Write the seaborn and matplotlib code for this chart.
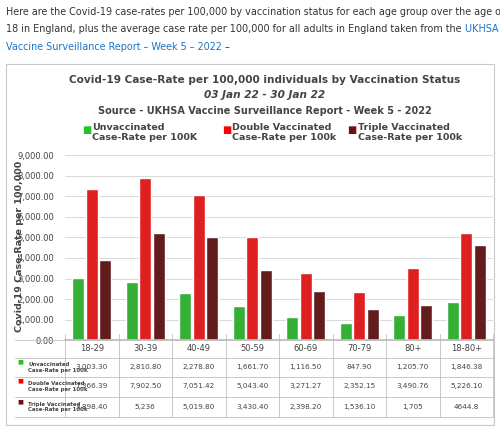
"""Covid-19 case-rate per 100k by vaccination status, with data table."""

import matplotlib.pyplot as plt
import pandas as pd
import seaborn as sns
from matplotlib.lines import Line2D
from matplotlib.patches import Rectangle

AGE_GROUPS = ["18-29", "30-39", "40-49", "50-59", "60-69", "70-79", "80+", "18-80+"]
UNVAX = [3003.30, 2810.80, 2278.80, 1661.70, 1116.50, 847.90, 1205.70, 1846.38]
DOUBLE = [7366.39, 7902.50, 7051.42, 5043.40, 3271.27, 2352.15, 3490.76, 5226.10]
TRIPLE = [3898.40, 5236.00, 5019.80, 3430.40, 2398.20, 1536.10, 1705.00, 4644.80]
UNVAX_TXT = ["3,003.30", "2,810.80", "2,278.80", "1,661.70", "1,116.50", "847.90", "1,205.70", "1,846.38"]
DOUBLE_TXT = ["7,366.39", "7,902.50", "7,051.42", "5,043.40", "3,271.27", "2,352.15", "3,490.76", "5,226.10"]
TRIPLE_TXT = ["3,898.40", "5,236", "5,019.80", "3,430.40", "2,398.20", "1,536.10", "1,705", "4644.8"]
SERIES = ["Unvaccinated", "Double Vaccinated", "Triple Vaccinated"]
COLORS = ["#22c322", "#ff0000", "#6e1010"]

df = pd.DataFrame({
    "age": AGE_GROUPS * 3,
    "rate": UNVAX + DOUBLE + TRIPLE,
    "status": [s for s in SERIES for _ in AGE_GROUPS],
})

sns.set_theme(style="white")
plt.rcParams["font.family"] = ["DejaVu Sans"]

fig = plt.figure(figsize=(5, 4.4), dpi=100)
renderer = fig.canvas.get_renderer()
inv = fig.transFigure.inverted()

# page text above the chart
body = "#333333"
link = "#1a73c8"
FS = 6.9
fig.text(0.012, 0.985, "Here are the Covid-19 case-rates per 100,000 by vaccination status for each age group over the age of",
         fontsize=FS, color=body, va="top")
t2 = fig.text(0.012, 0.945, "18 in England, plus the average case rate per 100,000 for all adults in England taken from the",
              fontsize=FS, color=body, va="top")
x_end = inv.transform((t2.get_window_extent(renderer).x1, 0))[0]
fig.text(x_end, 0.945, " UKHSA", fontsize=FS, color=link, va="top")
t3 = fig.text(0.012, 0.905, "Vaccine Surveillance Report – Week 5 – 2022", fontsize=FS, color=link, va="top")
x_end = inv.transform((t3.get_window_extent(renderer).x1, 0))[0]
fig.text(x_end, 0.905, " –", fontsize=FS, color=body, va="top")

# chart frame
fig.patches.append(Rectangle((0.012, 0.035), 0.976, 0.82, transform=fig.transFigure,
                             fill=False, edgecolor="#c8c8c8", linewidth=0.8))

fig.text(0.53, 0.83, "Covid-19 Case-Rate per 100,000 individuals by Vaccination Status",
         fontsize=7.6, fontweight="bold", color="#444444", ha="center", va="top")
fig.text(0.53, 0.795, "03 Jan 22 - 30 Jan 22", fontsize=7.6, fontweight="bold",
         style="italic", color="#444444", ha="center", va="top")
fig.text(0.53, 0.76, "Source - UKHSA Vaccine Surveillance Report - Week 5 - 2022",
         fontsize=7, fontweight="bold", color="#444444", ha="center", va="top")

legend_items = [("Unvaccinated\nCase-Rate per 100K", 0.185),
                ("Double Vaccinated\nCase-Rate per 100k", 0.465),
                ("Triple Vaccinated\nCase-Rate per 100k", 0.715)]
for (label, x), c in zip(legend_items, COLORS):
    fig.text(x - 0.02, 0.715, "■", color=c, fontsize=7, va="top")
    fig.text(x, 0.72, label, fontsize=6.8, fontweight="bold", color="#444444", va="top", linespacing=1.1)

ax = fig.add_axes([0.13, 0.227, 0.856, 0.42])
sns.barplot(data=df, x="age", y="rate", hue="status", palette=COLORS,
            gap=0.1, width=0.75, legend=False, ax=ax)
ax.set_ylim(0, 9000)
ax.set_yticks(range(0, 9001, 1000))
ax.set_yticklabels([f"{v:,.2f}" for v in range(0, 9001, 1000)], fontsize=6, color="#444444")
ax.tick_params(axis="y", pad=2)
ax.set_xticklabels(AGE_GROUPS, fontsize=6, color="#444444")
ax.set_xlabel("")
ax.set_ylabel("")
fig.text(0.04, 0.44, "Covid-19 Case-Rate per 100,000", fontsize=6.8, fontweight="bold",
         color="#444444", rotation=90, ha="center", va="center")
ax.grid(axis="y", color="#d9d9d9", linewidth=0.7)
ax.set_axisbelow(True)
ax.tick_params(axis="x", length=0, pad=3)
for side in ["top", "right", "left"]:
    ax.spines[side].set_visible(False)
ax.spines["bottom"].set_color("#bfbfbf")
ax.set_xlim(-0.5, len(AGE_GROUPS) - 0.5)

# data table
row_y = [0.165, 0.122, 0.075]
rows = [("Unvaccinated\nCase-Rate per 100K", UNVAX_TXT),
        ("Double Vaccinated\nCase-Rate per 100k", DOUBLE_TXT),
        ("Triple Vaccinated\nCase-Rate per 100k", TRIPLE_TXT)]
for (label, vals), y, c in zip(rows, row_y, COLORS):
    fig.text(0.034, y + 0.012, "■", color=c, fontsize=4.5, va="center")
    fig.text(0.057, y, label, fontsize=3.9, fontweight="bold", color="#444444", va="center",
             ha="left", linespacing=1.2)
    for i, v in enumerate(vals):
        xf = inv.transform(ax.transData.transform((i, 0)))[0]
        fig.text(xf, y, v, fontsize=5.2, color="#444444", ha="center", va="center")

for yl in [0.227, 0.187, 0.143, 0.098, 0.052]:
    fig.add_artist(Line2D([0.03, 0.986], [yl, yl], transform=fig.transFigure,
                          color="#bfbfbf", linewidth=0.6))
for i in range(len(AGE_GROUPS) + 1):
    xf = inv.transform(ax.transData.transform((i - 0.5, 0)))[0]
    fig.add_artist(Line2D([xf, xf], [0.052, 0.24], transform=fig.transFigure,
                          color="#bfbfbf", linewidth=0.6))

plt.savefig("out.png", dpi=100, facecolor="white")
plt.close()
